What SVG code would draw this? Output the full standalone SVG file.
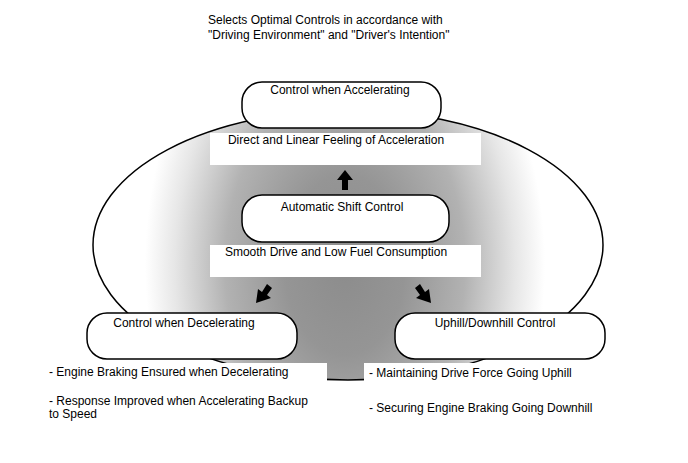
<svg xmlns="http://www.w3.org/2000/svg" width="688" height="463" viewBox="0 0 688 463">
<defs>
<radialGradient id="g" gradientUnits="userSpaceOnUse" cx="345" cy="265" r="200" gradientTransform="translate(345 265) scale(1 1.5) translate(-345 -265)">
<stop offset="0" stop-color="#8c8c8c"/>
<stop offset="0.3" stop-color="#959595"/>
<stop offset="0.6" stop-color="#b2b2b2"/>
<stop offset="0.85" stop-color="#e6e6e6"/>
<stop offset="1" stop-color="#ffffff"/>
</radialGradient>
<style>
text{font-family:"Liberation Sans",Arial,sans-serif;font-size:12px;fill:#000}
.node{fill:#fff;stroke:#000;stroke-width:1.5}
.c{text-anchor:middle}
.wb{fill:#fff;stroke:none}
.arr{fill:#000;stroke:none}
</style>
</defs>
<rect width="688" height="463" fill="#fff"/>
<g id="title">
<text x="208" y="24">Selects Optimal Controls in accordance with</text>
<text x="208" y="39">"Driving Environment" and "Driver's Intention"</text>
</g>
<g id="background">
<ellipse cx="348" cy="245" rx="255" ry="135" fill="url(#g)" stroke="#000" stroke-width="1.5"/>
<rect class="wb" x="210" y="133" width="271" height="32"/>
<rect class="wb" x="210" y="245" width="271" height="32"/>
<rect class="wb" x="40" y="363" width="287" height="30"/>
<rect class="wb" x="364" y="363" width="280" height="30"/>
</g>
<g id="connectors">
<polygon class="arr" points="345,170 353,180 348,180 348,190 342,190 342,180 337,180"/>
<polygon class="arr" points="256,303 258,289 262,292 267,284 272,288 267,295 271,298"/>
<polygon class="arr" points="431,303 416,298 420,295 415,288 420,284 425,292 429,289"/>
</g>
<g id="label-accel">
<text class="c" x="336" y="144">Direct and Linear Feeling of Acceleration</text>
</g>
<g id="label-shift">
<text class="c" x="336" y="256">Smooth Drive and Low Fuel Consumption</text>
</g>
<g id="node-accel">
<rect class="node" x="242" y="82" width="199" height="46" rx="20" ry="20"/>
<text class="c" x="340" y="94">Control when Accelerating</text>
</g>
<g id="node-shift">
<rect class="node" x="242" y="195" width="207" height="47" rx="20" ry="20"/>
<text class="c" x="342" y="211">Automatic Shift Control</text>
</g>
<g id="node-decel">
<rect class="node" x="87" y="313" width="210" height="46" rx="20" ry="20"/>
<text class="c" x="184" y="327">Control when Decelerating</text>
</g>
<g id="node-hill">
<rect class="node" x="395" y="313" width="210" height="46" rx="20" ry="20"/>
<text class="c" x="495" y="327">Uphill/Downhill Control</text>
</g>
<g id="notes-decel">
<text x="49" y="376">- Engine Braking Ensured when Decelerating</text>
<text x="49" y="405">- Response Improved when Accelerating Backup</text>
<text x="49" y="418">to Speed</text>
</g>
<g id="notes-hill">
<text x="369" y="377">- Maintaining Drive Force Going Uphill</text>
<text x="369" y="412">- Securing Engine Braking Going Downhill</text>
</g>
</svg>
